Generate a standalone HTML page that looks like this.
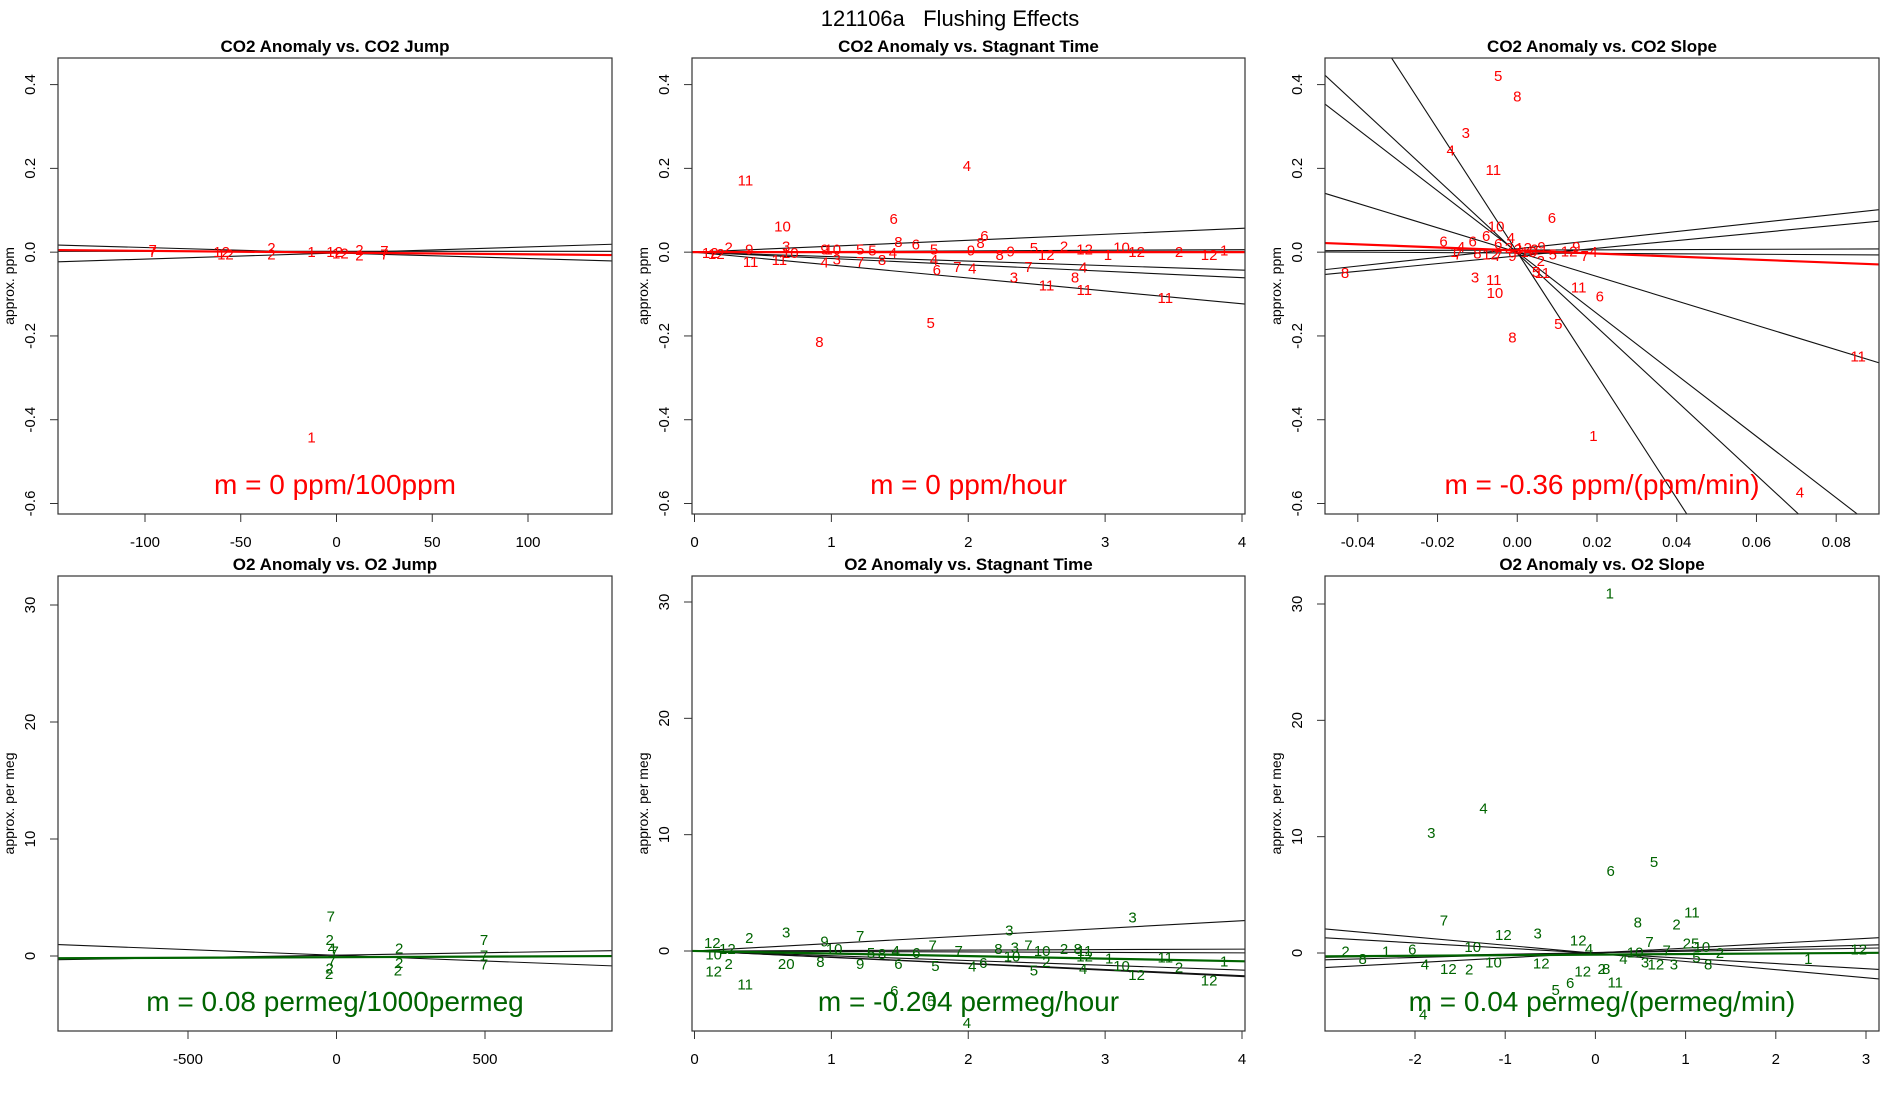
<!DOCTYPE html>
<html><head><meta charset="utf-8">
<style>
html,body{margin:0;padding:0;background:#fff;}
svg{display:block;font-family:"Liberation Sans",sans-serif;}
</style></head>
<body>
<svg id="fig" width="1900" height="1100" viewBox="0 0 1900 1100">
<rect x="0" y="0" width="1900" height="1100" fill="#fff"/>
<text x="950" y="26" text-anchor="middle" font-size="22" fill="#000" style="white-space:pre" xml:space="preserve">121106a   Flushing Effects</text>
</svg>
<script>
// ---- Panel 1: CO2 Anomaly vs. CO2 Jump ----
const p1Labels=["7","7","12","12","2","2","1","12","12","2","2","7","7","1"];
const p1X=[-96,-96,-60,-58,-34,-34,-13,-1,2,12,12,25,25,-13];
const p1Y=[0.005,0.0,0.0,-0.005,0.01,-0.005,0,0,-0.003,0.005,-0.008,0.003,-0.006,-0.443];
const p1Slopes=[-0.000131,0.000145,0];
const p1Intercepts=[-0.002,-0.002,0.002];
const p1Fit=[-0.0000415,-0.001];

// ---- Panel 2: CO2 Anomaly vs. Stagnant Time ----
const p2Labels=["11","4","10","6","6","6","5","8","3","11","11","11","8","4","7","4","7","6","2","2","12","1","10","12","1","12","5","12","8","9","8","9","5","4","4","8","8","5","5","7","3","10","9","4","10","3","11","9","11","2","12","12"];
const p2X=[0.372,1.99,0.643,1.455,2.118,1.617,1.725,0.913,2.334,2.572,2.848,3.44,2.78,2.84,2.44,2.03,1.92,1.77,2.70,3.54,3.76,3.87,3.12,3.23,3.02,2.85,2.48,2.57,2.23,2.31,2.09,2.02,1.75,1.75,1.45,1.49,1.37,1.30,1.21,1.21,1.04,1.01,0.95,0.95,0.70,0.67,0.62,0.40,0.41,0.25,0.16,0.115];
const p2Y=[0.171,0.206,0.061,0.079,0.038,0.018,-0.169,-0.215,-0.060,-0.079,-0.090,-0.109,-0.060,-0.037,-0.035,-0.039,-0.035,-0.042,0.014,0,-0.007,0.004,0.011,0,-0.007,0.006,0.01,-0.007,-0.007,0.002,0.022,0.004,0.006,-0.019,-0.002,0.024,-0.019,0.004,0.006,-0.023,-0.017,0.006,0.006,-0.025,-0.002,0.014,-0.019,0.006,-0.023,0.011,-0.004,-0.002];
const p2Slopes=[0.0142,0.0015,-0.0107,-0.0152,-0.0308,0.0005];
const p2Intercepts=[0,0,0,0,0,0];
const p2Fit=[0,0];

// ---- Panel 3: CO2 Anomaly vs. CO2 Slope ----
const p3Labels=["5","8","3","4","11","6","10","6","6","6","6","8","3","11","10","11","6","5","8","11","1","4","5","11","7","1","4","8","12","7","2","4","9","3","12","10","2","9","2","5","12","9","7","4"];
const p3X=[-0.0048,0,-0.0129,-0.0167,-0.006,0.0087,-0.0053,-0.0078,-0.0185,-0.0112,-0.0048,-0.0432,-0.0106,-0.0059,-0.0056,0.0154,0.0207,0.0103,-0.0012,0.0855,0.0191,0.0709,0.0047,0.0063,-0.0149,-0.0158,-0.0141,-0.01,-0.0067,-0.0048,-0.0021,-0.0016,-0.0012,0.0002,0.0016,0.0029,0.0043,0.0061,0.0059,0.0089,0.013,0.0148,0.0169,0.0191];
const p3Y=[0.42,0.371,0.284,0.243,0.196,0.082,0.061,0.039,0.026,0.026,0.02,-0.05,-0.06,-0.066,-0.097,-0.084,-0.106,-0.172,-0.204,-0.249,-0.439,-0.574,-0.047,-0.05,-0.005,0,0.012,-0.003,-0.005,-0.009,0.01,0.034,-0.009,0.006,0.01,0,0.006,0.012,-0.021,-0.005,0.002,0.012,-0.009,0];
const p3Slopes=[-14.7,-8.82,-7.33,-2.91,1.03,0.915,0.03,-0.05];
const p3Intercepts=[0,-0.003,0,0,0.008,-0.009,0.005,-0.002];
const p3Fit=[-0.367,0.004];

// ---- Panel 4: O2 Anomaly vs. O2 Jump ----
const p4Labels=["7","2","4","7","7","2","2","2","2","2","7","7","7"];
const p4X=[-19,-23,-16,-6,-16,-23,-25,211,211,207,497,497,497];
const p4Y=[3.37,1.36,0.65,0.39,-0.42,-1.07,-1.55,0.65,-0.58,-1.23,1.36,0.06,-0.74];
const p4Slopes=[-0.000975,0.000415];
const p4Intercepts=[0.06,0.07];
const p4Fit=[0.0001,-0.1];

// ---- Panel 5: O2 Anomaly vs. Stagnant Time ----
const p5Labels=["3","3","3","7","2","12","12","10","12","2","11","20","8","9","10","9","5","8","4","6","6","7","5","7","4","6","6","5","4","8","10","3","7","10","2","5","2","8","11","12","4","1","10","12","11","2","12","1"];
const p5X=[3.20,2.30,0.67,1.21,0.40,0.13,0.24,0.14,0.14,0.25,0.37,0.67,0.92,0.95,1.02,1.21,1.29,1.37,1.47,1.49,1.62,1.74,1.76,1.93,2.03,2.11,1.46,1.73,1.99,2.22,2.32,2.34,2.44,2.54,2.57,2.48,2.70,2.80,2.85,2.85,2.84,3.03,3.12,3.23,3.44,3.54,3.76,3.87];
const p5Y=[2.87,1.75,1.6,1.27,1.1,0.7,0.16,-0.32,-1.75,-1.1,-2.9,-1.1,-0.96,0.8,0.16,-1.1,-0.16,-0.25,0,-1.1,-0.16,0.48,-1.27,0,-1.34,-1.05,-3.44,-4.3,-6.2,0.16,-0.48,0.32,0.48,0,-0.96,-1.66,0.16,0.16,0,-0.48,-1.53,-0.64,-1.27,-2.07,-0.57,-1.43,-2.55,-0.89];
const p5Slopes=[0.65,0.04,-0.04,-0.41,-0.55,-0.53];
const p5Intercepts=[0,0,0,0,0,0];
const p5Fit=[-0.22,0];

// ---- Panel 6: O2 Anomaly vs. O2 Slope ----
const p6Labels=["1","4","3","5","6","7","8","2","11","12","3","12","2","8","1","6","4","12","2","10","10","12","6","5","4","12","2","8","11","4","10","7","3","12","3","25","10","5","8","2","1","12","4","7"];
const p6X=[0.16,-1.24,-1.82,0.65,0.17,-1.68,0.47,0.90,1.07,-1.02,-0.64,-0.19,-2.77,-2.58,-2.32,-2.03,-1.89,-1.63,-1.40,-1.13,-1.36,-0.60,-0.28,-0.44,-1.91,-0.14,0.07,0.12,0.22,0.31,0.44,0.60,0.55,0.67,0.87,1.06,1.18,1.12,1.25,1.38,2.36,2.92,-0.07,0.79];
const p6Y=[30.9,12.4,10.3,7.84,7.07,2.78,2.63,2.43,3.46,1.54,1.69,1.09,0.15,-0.53,0.15,0.3,-0.98,-1.36,-1.42,-0.83,0.5,-0.89,-2.6,-3.2,-5.27,-1.57,-1.36,-1.36,-2.54,-0.53,0.06,0.95,-0.83,-0.98,-0.98,0.8,0.5,-0.38,-0.98,0,-0.53,0.3,0.36,0.2];
const p6Slopes=[-0.70,-0.443,0.419,0.21,0.13];
const p6Intercepts=[-0.03,-0.02,0,0.04,0.02];
const p6Fit=[0.05,-0.14];

const NS="http://www.w3.org/2000/svg";
const svg=document.getElementById('fig');
function mk(tag,attrs,parent){const e=document.createElementNS(NS,tag);for(const k in attrs)e.setAttribute(k,attrs[k]);(parent||svg).appendChild(e);return e;}

const panels=[
 {id:"p1",title:"CO2 Anomaly vs. CO2 Jump",box:[58,612,58,514],xa:[-100,145,100,528],ya:[0.4,84.6,-0.6,503.5],xt:[-100,-50,0,50,100],xtl:["-100","-50","0","50","100"],yt:[-0.6,-0.4,-0.2,0,0.2,0.4],ytl:["-0.6","-0.4","-0.2","0.0","0.2","0.4"],ylab:"approx. ppm",m:"m = 0 ppm/100ppm",col:"#ff0000",L:p1Labels,X:p1X,Y:p1Y,S:p1Slopes,I:p1Intercepts,F:p1Fit},
 {id:"p2",title:"CO2 Anomaly vs. Stagnant Time",box:[692,1245,58,514],xa:[0,694.5,4,1242],ya:[0.4,84.6,-0.6,503.5],xt:[0,1,2,3,4],xtl:["0","1","2","3","4"],yt:[-0.6,-0.4,-0.2,0,0.2,0.4],ytl:["-0.6","-0.4","-0.2","0.0","0.2","0.4"],ylab:"approx. ppm",m:"m = 0 ppm/hour",col:"#ff0000",L:p2Labels,X:p2X,Y:p2Y,S:p2Slopes,I:p2Intercepts,F:p2Fit},
 {id:"p3",title:"CO2 Anomaly vs. CO2 Slope",box:[1325,1879,58,514],xa:[-0.04,1357.8,0.08,1836.2],ya:[0.4,84.6,-0.6,503.5],xt:[-0.04,-0.02,0,0.02,0.04,0.06,0.08],xtl:["-0.04","-0.02","0.00","0.02","0.04","0.06","0.08"],yt:[-0.6,-0.4,-0.2,0,0.2,0.4],ytl:["-0.6","-0.4","-0.2","0.0","0.2","0.4"],ylab:"approx. ppm",m:"m = -0.36 ppm/(ppm/min)",col:"#ff0000",L:p3Labels,X:p3X,Y:p3Y,S:p3Slopes,I:p3Intercepts,F:p3Fit},
 {id:"p4",title:"O2 Anomaly vs. O2 Jump",box:[58,612,576,1031],xa:[-500,188,500,485],ya:[0,956,30,605],xt:[-500,0,500],xtl:["-500","0","500"],yt:[0,10,20,30],ytl:["0","10","20","30"],ylab:"approx. per meg",m:"m = 0.08 permeg/1000permeg",col:"#006400",L:p4Labels,X:p4X,Y:p4Y,S:p4Slopes,I:p4Intercepts,F:p4Fit},
 {id:"p5",title:"O2 Anomaly vs. Stagnant Time",box:[692,1245,576,1031],xa:[0,694.5,4,1242],ya:[0,951,30,602],xt:[0,1,2,3,4],xtl:["0","1","2","3","4"],yt:[0,10,20,30],ytl:["0","10","20","30"],ylab:"approx. per meg",m:"m = -0.204 permeg/hour",col:"#006400",L:p5Labels,X:p5X,Y:p5Y,S:p5Slopes,I:p5Intercepts,F:p5Fit},
 {id:"p6",title:"O2 Anomaly vs. O2 Slope",box:[1325,1879,576,1031],xa:[-2,1415,3,1866],ya:[0,953,30,604],xt:[-2,-1,0,1,2,3],xtl:["-2","-1","0","1","2","3"],yt:[0,10,20,30],ytl:["0","10","20","30"],ylab:"approx. per meg",m:"m = 0.04 permeg/(permeg/min)",col:"#006400",L:p6Labels,X:p6X,Y:p6Y,S:p6Slopes,I:p6Intercepts,F:p6Fit}
];

const defs=mk('defs',{});
panels.forEach(p=>{
 const [l,r,t,b]=p.box;
 const sx=v=>p.xa[1]+(v-p.xa[0])*(p.xa[3]-p.xa[1])/(p.xa[2]-p.xa[0]);
 const sy=v=>p.ya[1]+(v-p.ya[0])*(p.ya[3]-p.ya[1])/(p.ya[2]-p.ya[0]);
 const ix=px=>p.xa[0]+(px-p.xa[1])*(p.xa[2]-p.xa[0])/(p.xa[3]-p.xa[1]);
 const cp=mk('clipPath',{id:'clip-'+p.id},defs);
 mk('rect',{x:l,y:t,width:r-l,height:b-t},cp);
 const g=mk('g',{});
 
 
 const title=mk('text',{x:(l+r)/2,y:t-6,'text-anchor':'middle','font-size':17,'font-weight':'bold',fill:'#000'},g);
 title.textContent=p.title;
 
 
 const ylab=mk('text',{transform:`translate(${l-44},${(t+b)/2}) rotate(-90)`,'text-anchor':'middle','font-size':14,fill:'#000'},g);
 ylab.textContent=p.ylab;
 
 
 p.xt.forEach((v,i)=>{
  const x=sx(v);
  const tk=mk('line',{x1:x,x2:x,y1:b,y2:b+8,stroke:'#333','stroke-width':1},g);
  
  
  const tl=mk('text',{x:x,y:b+33,'text-anchor':'middle','font-size':15,fill:'#000'},g);
  tl.textContent=p.xtl[i];
  
  
 });
 p.yt.forEach((v,i)=>{
  const y=sy(v);
  const tk=mk('line',{x1:l-8,x2:l,y1:y,y2:y,stroke:'#333','stroke-width':1},g);
  
  
  const tl=mk('text',{transform:`translate(${l-23},${y}) rotate(-90)`,'text-anchor':'middle','font-size':15,fill:'#000'},g);
  tl.textContent=p.ytl[i];
  
  
 });
 const clipG=mk('g',{'clip-path':`url(#clip-${p.id})`},g);
 const x0=ix(l-2),x1=ix(r+2);
 p.S.forEach((s,i)=>{
  const ln=mk('line',{x1:sx(x0),y1:sy(p.I[i]+s*x0),x2:sx(x1),y2:sy(p.I[i]+s*x1),stroke:'#111','stroke-width':1.1},clipG);
  
  
 });
 const fl=mk('line',{x1:sx(x0),y1:sy(p.F[1]+p.F[0]*x0),x2:sx(x1),y2:sy(p.F[1]+p.F[0]*x1),stroke:p.col,'stroke-width':2.2},clipG);
 
 
 p.L.forEach((lab,i)=>{
  const tx=mk('text',{x:sx(p.X[i]),y:sy(p.Y[i])+5,'text-anchor':'middle','font-size':15,fill:p.col},g);
  tx.textContent=lab;
  
  
 });
 const mt=mk('text',{x:(l+r)/2,y:b-20,'text-anchor':'middle','font-size':28,fill:p.col},g);
 mt.textContent=p.m;
 
 
 const bx=mk('rect',{x:l,y:t,width:r-l,height:b-t,fill:'none',stroke:'#333','stroke-width':1.2},g);
 
 
});
</script>
</body></html>
